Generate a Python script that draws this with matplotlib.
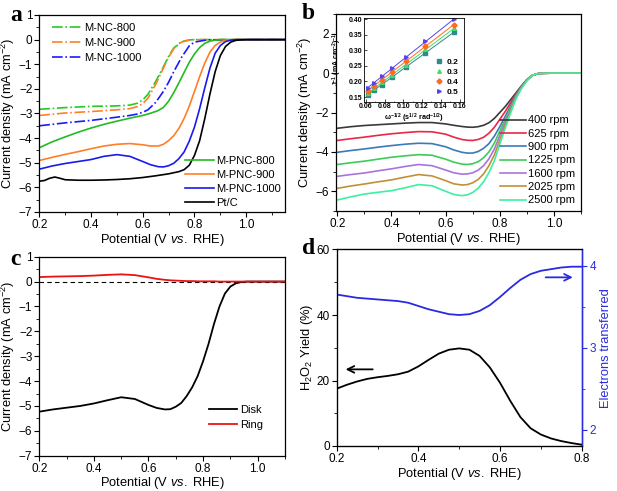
import numpy as np
import matplotlib
matplotlib.use("Agg")
import matplotlib.pyplot as plt
from matplotlib.ticker import MultipleLocator

plt.rcParams['font.family'] = ['Liberation Sans', 'DejaVu Sans']
plt.rcParams['mathtext.fontset'] = 'custom'
plt.rcParams['mathtext.rm'] = 'Liberation Sans'
plt.rcParams['mathtext.it'] = 'Liberation Sans:italic'
plt.rcParams['mathtext.bf'] = 'Liberation Sans:bold'

# ---------------- Panel a data ----------------
x_nc = [0.2, 0.3, 0.4, 0.5, 0.55, 0.58, 0.6, 0.62, 0.65, 0.68, 0.7, 0.72, 0.75, 0.78, 0.8, 0.85, 1.15]
nc800 = [-2.83, -2.76, -2.71, -2.69, -2.66, -2.58, -2.45, -2.22, -1.7, -1.1, -0.68, -0.34, -0.08, -0.01, 0, 0, 0]
nc900 = [-3.08, -2.98, -2.92, -2.85, -2.8, -2.72, -2.6, -2.38, -1.82, -1.15, -0.72, -0.36, -0.1, -0.02, 0, 0, 0]
nc1000 = [-3.5, -3.38, -3.28, -3.15, -3.08, -3.02, -2.95, -2.85, -2.55, -2.1, -1.73, -1.3, -0.72, -0.25, -0.1, -0.01, 0]

x_pnc = [0.2, 0.25, 0.3, 0.35, 0.4, 0.45, 0.5, 0.55, 0.6, 0.63, 0.66, 0.68, 0.7, 0.72, 0.74, 0.76,
         0.78, 0.8, 0.82, 0.84, 0.86, 0.88, 0.9, 0.92, 0.94, 0.96, 0.98, 1.0, 1.15]
pnc800 = [-4.39, -4.15, -3.95, -3.76, -3.59, -3.44, -3.31, -3.19, -3.08, -2.99, -2.88, -2.75, -2.5, -2.15,
          -1.75, -1.33, -0.92, -0.58, -0.32, -0.15, -0.06, -0.02, 0, 0, 0, 0, 0, 0, 0]
pnc900 = [-4.91, -4.78, -4.66, -4.55, -4.43, -4.32, -4.25, -4.22, -4.27, -4.32, -4.32, -4.25, -4.1, -3.9,
          -3.6, -3.2, -2.7, -2.1, -1.5, -0.95, -0.5, -0.24, -0.1, -0.03, -0.01, 0, 0, 0, 0]
pnc1000 = [-5.26, -5.13, -5.03, -4.95, -4.87, -4.74, -4.67, -4.74, -4.95, -5.08, -5.16, -5.17, -5.12, -5.02,
           -4.83, -4.56, -4.12, -3.55, -2.8, -1.95, -1.15, -0.55, -0.24, -0.08, -0.02, 0, 0, 0, 0]
x_pt = [0.2, 0.22, 0.24, 0.26, 0.28, 0.3, 0.35, 0.4, 0.45, 0.5, 0.55, 0.6, 0.65, 0.7, 0.74, 0.76, 0.78,
        0.8, 0.82, 0.84, 0.86, 0.88, 0.9, 0.92, 0.94, 0.96, 0.98, 1.0, 1.15]
ptc = [-5.75, -5.72, -5.63, -5.58, -5.63, -5.69, -5.71, -5.71, -5.7, -5.68, -5.65, -5.6, -5.53, -5.45,
       -5.36, -5.28, -5.1, -4.7, -4.1, -3.2, -2.2, -1.3, -0.65, -0.28, -0.1, -0.03, -0.01, 0, 0]

# ---------------- Panel b data ----------------
x_b = [0.2, 0.25, 0.3, 0.35, 0.4, 0.45, 0.5, 0.55, 0.6, 0.63, 0.66, 0.68, 0.7, 0.72, 0.74, 0.76, 0.78,
       0.8, 0.82, 0.84, 0.86, 0.88, 0.9, 0.92, 0.94, 0.96, 1.0, 1.1]
rpm_labels = ['400 rpm', '625 rpm', '900 rpm', '1225 rpm', '1600 rpm', '2025 rpm', '2500 rpm']
j400 = [-2.8, -2.72, -2.66, -2.62, -2.58, -2.54, -2.51, -2.51, -2.58, -2.65, -2.71, -2.74, -2.75, -2.72,
        -2.65, -2.52, -2.3, -2.0, -1.7, -1.35, -1.0, -0.65, -0.33, -0.12, -0.03, -0.01, 0, 0]
j625 = [-3.42, -3.33, -3.25, -3.16, -3.08, -3.02, -2.97, -2.98, -3.1, -3.25, -3.37, -3.41, -3.42, -3.37,
        -3.26, -3.05, -2.75, -2.35, -1.95, -1.5, -1.05, -0.68, -0.34, -0.12, -0.03, -0.01, 0, 0]
j900 = [-4.02, -3.93, -3.85, -3.76, -3.68, -3.61, -3.56, -3.58, -3.74, -3.9, -4.02, -4.06, -4.06, -3.98,
        -3.82, -3.58, -3.2, -2.72, -2.2, -1.65, -1.1, -0.7, -0.35, -0.12, -0.03, -0.01, 0, 0]
j1225 = [-4.64, -4.55, -4.47, -4.37, -4.27, -4.2, -4.14, -4.17, -4.37, -4.52, -4.62, -4.64, -4.6, -4.5,
         -4.3, -4.0, -3.55, -2.95, -2.35, -1.75, -1.15, -0.72, -0.36, -0.12, -0.03, -0.01, 0, 0]
j1600 = [-5.24, -5.15, -5.07, -4.96, -4.86, -4.74, -4.64, -4.7, -4.92, -5.06, -5.13, -5.12, -5.06, -4.93,
         -4.7, -4.35, -3.85, -3.18, -2.5, -1.85, -1.2, -0.74, -0.37, -0.12, -0.03, -0.01, 0, 0]
j2025 = [-5.85, -5.73, -5.63, -5.52, -5.42, -5.28, -5.15, -5.22, -5.46, -5.62, -5.68, -5.66, -5.57, -5.4,
         -5.12, -4.7, -4.15, -3.4, -2.65, -1.93, -1.25, -0.76, -0.38, -0.12, -0.03, -0.01, 0, 0]
j2500 = [-6.44, -6.28, -6.14, -6.05, -5.97, -5.82, -5.66, -5.72, -6.0, -6.16, -6.22, -6.18, -6.06, -5.85,
         -5.52, -5.05, -4.45, -3.6, -2.8, -2.02, -1.3, -0.78, -0.39, -0.12, -0.03, -0.01, 0, 0]
rpm_colors = ['#3a3a3a', '#e8284a', '#3a7ab8', '#3ccc58', '#a873e0', '#c09038', '#3cf0a0']

# inset (Koutecky-Levich)
w_inv = [0.0618, 0.0687, 0.0773, 0.0883, 0.1030, 0.1236, 0.1545]
kl_labels = ['0.2', '0.3', '0.4', '0.5']
kl_02 = [0.158, 0.172, 0.190, 0.215, 0.245, 0.293, 0.360]
kl_03 = [0.163, 0.178, 0.197, 0.222, 0.254, 0.303, 0.372]
kl_04 = [0.170, 0.186, 0.206, 0.232, 0.265, 0.315, 0.383]
kl_05 = [0.178, 0.195, 0.218, 0.243, 0.280, 0.330, 0.400]
kl_colors = ['#2e8b8b', '#44dd66', '#ff6a20', '#5544ee']
kl_markers = ['s', '^', 'D', '>']

# ---------------- Panel c data ----------------
x_c = [0.2, 0.25, 0.3, 0.35, 0.4, 0.45, 0.5, 0.55, 0.6, 0.63, 0.66, 0.68, 0.7, 0.72, 0.74, 0.76, 0.78,
       0.8, 0.82, 0.84, 0.86, 0.88, 0.9, 0.92, 0.94, 0.96, 1.0, 1.1]
disk = [-5.23, -5.14, -5.07, -5.0, -4.9, -4.77, -4.65, -4.72, -4.96, -5.08, -5.14, -5.13, -5.03, -4.88,
        -4.6, -4.25, -3.8, -3.2, -2.5, -1.7, -1.0, -0.48, -0.2, -0.07, -0.02, 0, 0, 0]
ring = [0.18, 0.2, 0.21, 0.22, 0.24, 0.27, 0.29, 0.26, 0.17, 0.11, 0.07, 0.05, 0.04, 0.03, 0.02, 0.02,
        0.01, 0.01, 0.01, 0.01, 0, 0, 0, 0, 0, 0, 0, 0]

# ---------------- Panel d data ----------------
x_d = [0.2, 0.225, 0.25, 0.275, 0.3, 0.325, 0.35, 0.375, 0.4, 0.425, 0.45, 0.475, 0.5, 0.525, 0.55,
       0.575, 0.6, 0.625, 0.65, 0.675, 0.7, 0.725, 0.75, 0.775, 0.8]
h2o2 = [17.5, 18.7, 19.7, 20.5, 21.0, 21.4, 21.9, 22.7, 24.3, 26.3, 28.2, 29.4, 29.8, 29.4, 27.5,
        24.0, 19.3, 13.8, 8.8, 5.4, 3.5, 2.3, 1.5, 0.9, 0.4]
n_e = [3.65, 3.63, 3.61, 3.60, 3.59, 3.58, 3.57, 3.55, 3.51, 3.47, 3.44, 3.41, 3.40, 3.41, 3.45,
       3.52, 3.62, 3.73, 3.83, 3.90, 3.94, 3.96, 3.98, 3.99, 3.99]

W, H = 617, 491
fig = plt.figure(figsize=(W / 100, H / 100), dpi=100)

def ax_at(l, t, r, b):
    return fig.add_axes([l / W, 1 - b / H, (r - l) / W, (b - t) / H])

TICK = 8.5
LAB = 9.3
LEG = 8.0

def style(ax):
    ax.tick_params(which='both', direction='out', labelsize=TICK, top=False, right=False, pad=1.5)
    ax.tick_params(which='major', length=3.5, width=0.8)
    ax.tick_params(which='minor', length=2, width=0.6)
    for s in ax.spines.values():
        s.set_linewidth(0.9)

xlab = 'Potential (V $\\it{vs.}$ RHE)'
ylab = 'Current density (mA cm$^{-2}$)'

# ---- a ----
ax = ax_at(39.3, 15, 285, 212)
l1, = ax.plot(x_nc, nc800, color='#22cc22', ls='-.', lw=1.2, label='M-NC-800')
l2, = ax.plot(x_nc, nc900, color='#ff7f27', ls='-.', lw=1.2, label='M-NC-900')
l3, = ax.plot(x_nc, nc1000, color='#1a1aff', ls='-.', lw=1.2, label='M-NC-1000')
s1, = ax.plot(x_pnc, pnc800, color='#22bb22', lw=1.2, label='M-PNC-800')
s2, = ax.plot(x_pnc, pnc900, color='#ff7f27', lw=1.2, label='M-PNC-900')
s3, = ax.plot(x_pnc, pnc1000, color='#1a1aee', lw=1.2, label='M-PNC-1000')
s4, = ax.plot(x_pt, ptc, color='black', lw=1.2, label='Pt/C')
ax.set_xlim(0.2, 1.15)
ax.set_ylim(-7, 1)
ax.set_xticks([0.2, 0.4, 0.6, 0.8, 1.0])
ax.xaxis.set_minor_locator(MultipleLocator(0.1))
ax.yaxis.set_major_locator(MultipleLocator(1))
ax.yaxis.set_minor_locator(MultipleLocator(0.5))
style(ax)
ax.set_xlabel(xlab, fontsize=LAB, labelpad=0.5)
ax.set_ylabel(ylab, fontsize=LAB, labelpad=1)
lg1 = ax.legend(handles=[l1, l2, l3], loc='upper left', frameon=False, fontsize=LEG,
                handlelength=2.6, handletextpad=0.3, labelspacing=0.45, borderaxespad=0.3,
                bbox_to_anchor=(0.02, 1.0))
ax.add_artist(lg1)
ax.legend(handles=[s1, s2, s3, s4], loc='lower right', frameon=False, fontsize=LEG,
          handlelength=2.6, handletextpad=0.2, labelspacing=0.35, borderaxespad=0.0,
          bbox_to_anchor=(1.0, 0.0))
fig.text(10 / W, 1 - 21 / H, 'a', fontsize=17, fontweight='bold', family='Liberation Serif')

# ---- b ----
ax = ax_at(336, 14, 581, 211)
series_b = [j400, j625, j900, j1225, j1600, j2025, j2500]
for y, c, lab in zip(series_b, rpm_colors, rpm_labels):
    ax.plot(x_b, y, color=c, lw=1.2, label=lab)
ax.set_xlim(0.195, 1.1)
ax.set_ylim(-7, 3)
ax.set_xticks([0.2, 0.4, 0.6, 0.8, 1.0])
ax.xaxis.set_minor_locator(MultipleLocator(0.1))
ax.yaxis.set_major_locator(MultipleLocator(2))
ax.yaxis.set_minor_locator(MultipleLocator(1))
style(ax)
ax.set_xlabel(xlab, fontsize=LAB, labelpad=0.5)
ax.set_ylabel(ylab, fontsize=LAB, labelpad=1)
ax.legend(loc='lower right', frameon=False, fontsize=LEG, handlelength=2.3, handletextpad=0.2,
          labelspacing=0.3, borderaxespad=0.1)
fig.text(302 / W, 1 - 19 / H, 'b', fontsize=17, fontweight='bold', family='Liberation Serif')

# inset
axi = ax_at(364, 17.7, 464.3, 101.7)
for y, c, m, lab in zip([kl_02, kl_03, kl_04, kl_05], kl_colors, kl_markers, kl_labels):
    coef = np.polyfit(w_inv, y, 1)
    axi.plot(w_inv, np.polyval(coef, w_inv), color=c, lw=0.7)
    axi.plot(w_inv, y, ls='none', marker=m, ms=2.6, color=c, label=lab)
axi.set_xlim(0.058, 0.165)
axi.set_ylim(0.135, 0.405)
axi.set_xticks([0.06, 0.08, 0.10, 0.12, 0.14, 0.16])
axi.set_yticks([0.15, 0.20, 0.25, 0.30, 0.35, 0.40])
axi.xaxis.set_minor_locator(MultipleLocator(0.01))
axi.tick_params(which='both', direction='in', labelsize=5.0, pad=1.2)
axi.tick_params(which='major', length=2, width=0.5)
axi.tick_params(which='minor', length=1, width=0.4)
axi.set_xticklabels(['0.06', '0.08', '0.10', '0.12', '0.14', '0.16'], fontweight='bold')
axi.set_yticklabels(['0.15', '0.20', '0.25', '0.30', '0.35', '0.40'], fontweight='bold')
for s in axi.spines.values():
    s.set_linewidth(0.6)
axi.set_xlabel('$\\mathbf{\\omega^{-1/2}}$ (s$^{\\mathbf{1/2}}$ rad$^{\\mathbf{-1/2}}$)', fontsize=5.2,
               fontweight='bold', labelpad=1)
axi.set_ylabel('J$^{\\mathbf{-1}}$ (mA cm$^{\\mathbf{-2}}$)$^{\\mathbf{-1}}$', fontsize=5.0,
               fontweight='bold')
axi.yaxis.set_label_coords(-0.2, 0.5)
axi.legend(loc='lower right', frameon=False, prop={'size': 6, 'weight': 'bold'}, handlelength=1.0,
           handletextpad=0.4, labelspacing=0.25, borderaxespad=0.3, markerscale=1.0)

# ---- c ----
ax = ax_at(39.3, 256.7, 285, 455.7)
ax.axhline(0, color='black', ls=(0, (4, 3)), lw=0.8)
ax.plot(x_c, disk, color='black', lw=1.3, label='Disk')
ax.plot(x_c, ring, color='#ee1111', lw=1.3, label='Ring')
ax.set_xlim(0.2, 1.1)
ax.set_ylim(-7, 1)
ax.set_xticks([0.2, 0.4, 0.6, 0.8, 1.0])
ax.xaxis.set_minor_locator(MultipleLocator(0.1))
ax.yaxis.set_major_locator(MultipleLocator(1))
ax.yaxis.set_minor_locator(MultipleLocator(0.5))
style(ax)
ax.set_xlabel(xlab, fontsize=LAB, labelpad=0)
ax.set_ylabel(ylab, fontsize=LAB, labelpad=1)
ax.legend(loc='lower right', frameon=False, fontsize=LEG, handlelength=2.6, handletextpad=0.2,
          labelspacing=0.4, bbox_to_anchor=(0.95, 0.08))
fig.text(10 / W, 1 - 265 / H, 'c', fontsize=17, fontweight='bold', family='Liberation Serif')

# ---- d ----
ax = ax_at(336.7, 249.5, 581.7, 446)
ax.plot(x_d, h2o2, color='black', lw=1.3)
ax.set_xlim(0.2, 0.8)
ax.set_ylim(0, 60)
ax.set_xticks([0.2, 0.4, 0.6, 0.8])
ax.xaxis.set_minor_locator(MultipleLocator(0.1))
ax.yaxis.set_major_locator(MultipleLocator(20))
ax.yaxis.set_minor_locator(MultipleLocator(10))
style(ax)
ax.set_xlabel(xlab, fontsize=LAB, labelpad=0.5)
ax.set_ylabel('H$_2$O$_2$ Yield (%)', fontsize=LAB, labelpad=1)
ax.annotate('', xy=(0.215, 23.4), xytext=(0.295, 23.4),
            arrowprops=dict(arrowstyle='->', color='black', lw=1.3, mutation_scale=12))
blue = '#2a2ae0'
ax2 = ax.twinx()
ax2.plot(x_d, n_e, color=blue, lw=1.3)
ax2.set_ylim(1.8, 4.2)
ax2.yaxis.set_major_locator(MultipleLocator(1))
ax2.yaxis.set_minor_locator(MultipleLocator(0.5))
ax2.tick_params(which='both', direction='out', labelsize=TICK, colors=blue, pad=2)
ax2.tick_params(which='major', length=3.5, width=0.8)
ax2.tick_params(which='minor', length=2, width=0.6)
ax2.spines['right'].set_color(blue)
ax2.spines['right'].set_linewidth(1.0)
ax2.set_ylabel('Electrons transferred', fontsize=LAB, color=blue, labelpad=3)
ax2.annotate('', xy=(0.785, 3.86), xytext=(0.705, 3.86),
             arrowprops=dict(arrowstyle='->', color=blue, lw=1.3, mutation_scale=12))
fig.text(302 / W, 1 - 254 / H, 'd', fontsize=17, fontweight='bold', family='Liberation Serif')

fig.savefig('out.png', dpi=100)
